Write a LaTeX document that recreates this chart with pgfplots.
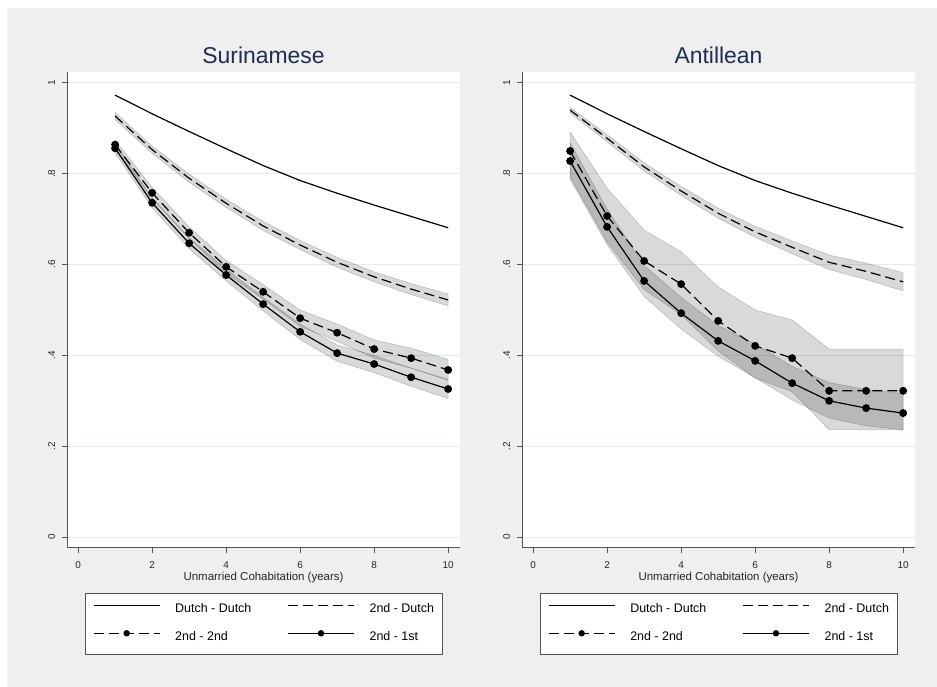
\documentclass[border=0pt]{standalone}
\usepackage{fontspec}
\setmainfont{Liberation Sans}
\usepackage{pgfplots}
\pgfplotsset{compat=1.18}

\definecolor{bggray}{RGB}{239,239,239}
\definecolor{gridc}{RGB}{226,236,236}
\definecolor{axisc}{RGB}{85,85,85}
\definecolor{titlec}{RGB}{30,45,82}

\pgfplotsset{
  panel/.style={
    scale only axis, width=393bp, height=476bp, anchor=south west,
    xmin=-0.3, xmax=10.32, ymin=-0.024, ymax=1.024,
    axis x line*=bottom, axis y line*=left,
    axis line style={axisc, line width=1bp},
    tick style={axisc, line width=0.8bp},
    tick align=outside, major tick length=5bp,
    xtick={0,2,...,10},
    ytick={0,0.2,0.4,0.6,0.8,1}, yticklabels={0,.2,.4,.6,.8,1},
    ymajorgrids, grid style={gridc, line width=0.9bp},
    axis background/.style={fill=white},
    /pgf/number format/assume math mode=true,
    ticklabel style={font=\fontsize{10}{12}\selectfont, text=black!85},
    xticklabel style={anchor=base, yshift=-16bp},
    yticklabel style={rotate=90, anchor=base},
    yticklabel shift=7bp,
    xlabel={Unmarried Cohabitation (years)},
    xlabel style={font=\fontsize{11.5}{13}\selectfont, text=black!85,
      at={(axis description cs:0.5,0)}, anchor=base, yshift=-33bp},
    title style={font=\fontsize{23}{26}\selectfont, text=titlec,
      at={(axis description cs:0.5,1)}, anchor=base, yshift=2.5bp},
    legend style={at={(axis description cs:0.5,-0.0945)}, anchor=north,
      draw=axisc, fill=white, legend columns=2,
      font=\fontsize{12.5}{14}\selectfont,
      inner xsep=8bp, inner ysep=10.5bp, row sep=15bp, column sep=0bp,
      nodes={inner xsep=0bp, inner ysep=0bp, text height=9bp, text depth=3bp},
      /tikz/every even column/.append style={column sep=36bp}},
    legend cell align=left,
    legend image post style={mark size=2.6bp, line width=1.2bp},
    legend image code/.code={
      \draw[mark repeat=2, mark phase=2, #1]
        plot coordinates {(0bp,4bp) (33bp,4bp) (66bp,4bp)};
      \path (81bp,0bp);
    },
    band/.style={fill=black, fill opacity=0.15, draw=black, draw opacity=0.18,
      line width=0.6bp, forget plot},
    dd/.style={black, line width=1.2bp},
    sd/.style={black, line width=1.2bp, dash pattern=on 10bp off 5bp},
    ss/.style={black, line width=1.2bp, dash pattern=on 10bp off 5bp,
      mark=*, mark size=3.3bp, mark options={solid}},
    sf/.style={black, line width=1.2bp, mark=*, mark size=3.3bp},
  }
}

\begin{document}
\begin{tikzpicture}[x=1bp,y=1bp]
\fill[white] (0,0) rectangle (937,687);
\fill[bggray] (7,0) rectangle (937,679);

% Surinamese
\begin{axis}[panel, at={(67bp,139bp)}, title={Surinamese}]
\addplot[band] coordinates {
  (1,0.935) (2,0.861) (3,0.799) (4,0.744) (5,0.695) (6,0.653) (7,0.616) (8,0.584) (9,0.558) (10,0.535)
  (10,0.509) (9,0.534) (8,0.562) (7,0.594) (6,0.633) (5,0.675) (4,0.726) (3,0.781) (2,0.845) (1,0.919)} -- cycle;
\addplot[band] coordinates {
  (1,0.874) (2,0.770) (3,0.683) (4,0.609) (5,0.556) (6,0.500) (7,0.469) (8,0.434) (9,0.416) (10,0.391)
  (10,0.345) (9,0.372) (8,0.394) (7,0.431) (6,0.464) (5,0.524) (4,0.581) (3,0.657) (2,0.746) (1,0.854)} -- cycle;
\addplot[band] coordinates {
  (1,0.866) (2,0.747) (3,0.659) (4,0.590) (5,0.528) (6,0.469) (7,0.423) (8,0.400) (9,0.372) (10,0.347)
  (10,0.305) (9,0.332) (8,0.362) (7,0.387) (6,0.435) (5,0.498) (4,0.564) (3,0.635) (2,0.725) (1,0.846)} -- cycle;
\addplot[dd] coordinates {
  (1,0.973) (2,0.932) (3,0.893) (4,0.855) (5,0.818) (6,0.785) (7,0.757) (8,0.731) (9,0.706) (10,0.681)};
\addplot[sd] coordinates {
  (1,0.927) (2,0.853) (3,0.790) (4,0.735) (5,0.685) (6,0.643) (7,0.605) (8,0.573) (9,0.546) (10,0.522)};
\addplot[ss] coordinates {
  (1,0.864) (2,0.758) (3,0.670) (4,0.595) (5,0.540) (6,0.482) (7,0.450) (8,0.414) (9,0.394) (10,0.368)};
\addplot[sf] coordinates {
  (1,0.856) (2,0.736) (3,0.647) (4,0.577) (5,0.513) (6,0.452) (7,0.405) (8,0.381) (9,0.352) (10,0.326)};
\legend{Dutch - Dutch, 2nd - Dutch, 2nd - 2nd, 2nd - 1st}
\end{axis}

% Antillean
\begin{axis}[panel, at={(522bp,139bp)}, title={Antillean}]
\addplot[band] coordinates {
  (1,0.946) (2,0.886) (3,0.824) (4,0.772) (5,0.724) (6,0.684) (7,0.652) (8,0.621) (9,0.603) (10,0.582)
  (10,0.542) (9,0.567) (8,0.589) (7,0.624) (6,0.660) (5,0.702) (4,0.752) (3,0.806) (2,0.870) (1,0.934)} -- cycle;
\addplot[band] coordinates {
  (1,0.892) (2,0.768) (3,0.676) (4,0.628) (5,0.551) (6,0.500) (7,0.478) (8,0.414) (9,0.414) (10,0.414)
  (10,0.236) (9,0.236) (8,0.236) (7,0.320) (6,0.350) (5,0.410) (4,0.490) (3,0.545) (2,0.650) (1,0.793)} -- cycle;
\addplot[band] coordinates {
  (1,0.868) (2,0.722) (3,0.598) (4,0.528) (5,0.466) (6,0.425) (7,0.376) (8,0.340) (9,0.325) (10,0.316)
  (10,0.236) (9,0.245) (8,0.262) (7,0.302) (6,0.351) (5,0.398) (4,0.458) (3,0.530) (2,0.644) (1,0.788)} -- cycle;
\addplot[dd] coordinates {
  (1,0.973) (2,0.932) (3,0.893) (4,0.855) (5,0.818) (6,0.785) (7,0.757) (8,0.731) (9,0.706) (10,0.681)};
\addplot[sd] coordinates {
  (1,0.940) (2,0.878) (3,0.815) (4,0.762) (5,0.713) (6,0.672) (7,0.638) (8,0.605) (9,0.585) (10,0.562)};
\addplot[ss] coordinates {
  (1,0.850) (2,0.707) (3,0.608) (4,0.557) (5,0.476) (6,0.421) (7,0.394) (8,0.322) (9,0.322) (10,0.322)};
\addplot[sf] coordinates {
  (1,0.828) (2,0.683) (3,0.564) (4,0.493) (5,0.432) (6,0.388) (7,0.339) (8,0.300) (9,0.284) (10,0.273)};
\legend{Dutch - Dutch, 2nd - Dutch, 2nd - 2nd, 2nd - 1st}
\end{axis}
\end{tikzpicture}
\end{document}
